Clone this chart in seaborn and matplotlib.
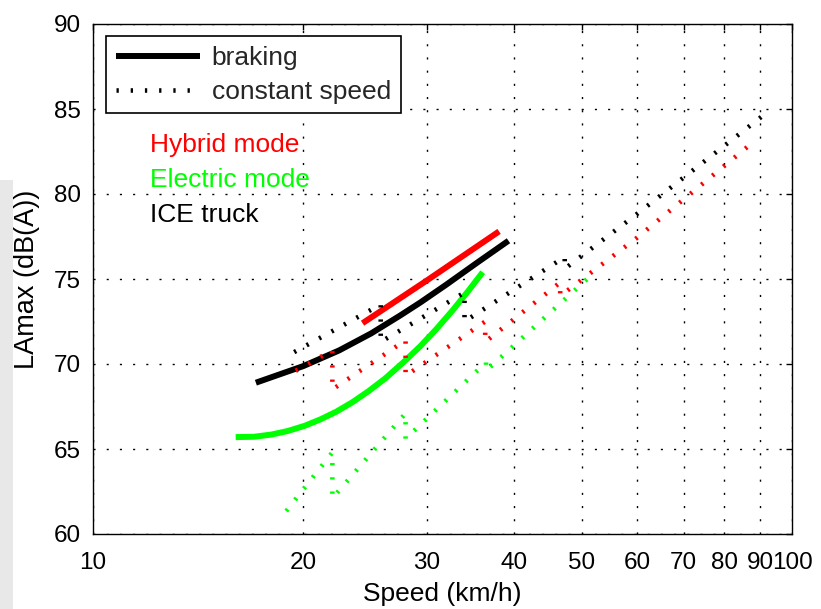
import numpy as np
import pandas as pd
import matplotlib
matplotlib.use("Agg")
import matplotlib.pyplot as plt
import seaborn as sns
from matplotlib.lines import Line2D
from matplotlib.patches import Rectangle
from matplotlib.ticker import FixedLocator, FixedFormatter, NullLocator

# ---------------- data ----------------
x_ticks = [10, 20, 30, 40, 50, 60, 70, 80, 90, 100]
x_tick_labels = ["10", "20", "30", "40", "50", "60", "70", "80", "90", "100"]
y_ticks = [60, 65, 70, 75, 80, 85, 90]
y_tick_labels = ["60", "65", "70", "75", "80", "85", "90"]

# braking (solid)
hyb_brake_speed = [24.3, 30.0, 38.1]
hyb_brake_level = [72.4, 74.9, 77.8]
ele_brake_speed = [16.0, 17.0, 18.0, 19.0, 20.1, 21.2, 22.3, 23.5, 24.8, 26.2,
                   27.8, 29.4, 31.0, 32.7, 34.4, 36.1]
ele_brake_level = [65.70, 65.72, 65.85, 66.06, 66.37, 66.76, 67.2, 67.75, 68.41,
                   69.16, 70.1, 71.05, 72.06, 73.16, 74.28, 75.4]
ice_brake_speed = [17.1, 20.0, 22.5, 25.0, 27.5, 29.4, 32.0, 35.5, 39.3]
ice_brake_level = [68.9, 69.88, 70.8, 71.8, 72.85, 73.62, 74.66, 75.98, 77.25]

# constant speed (dotted)
hyb_const_speed = [19.5, 22.0, 22.0, 28.0, 28.0, 36.4, 36.4, 46.6, 46.6, 59.9, 87.1]
hyb_const_level = [69.6, 70.8, 68.5, 71.4, 69.3, 72.5, 71.3, 74.8, 74.0, 77.4, 82.9]
ele_const_speed = [18.9, 22.0, 22.0, 28.0, 28.0, 36.5, 36.5, 52.2]
ele_const_level = [61.35, 64.8, 62.1, 67.1, 65.6, 70.1, 69.6, 75.4]
ice_const_speed = [19.4, 25.8, 25.8, 34.0, 34.0, 47.3, 47.3, 59.9, 90.8]
ice_const_level = [70.7, 73.5, 71.3, 74.2, 72.5, 76.3, 75.6, 78.8, 84.6]

legend_labels = ["braking", "constant speed"]
mode_labels = ["Hybrid mode", "Electric mode", "ICE truck"]

RED = "#ff0000"
GREEN = "#00ff00"
BLACK = "#000000"
mode_colors = [RED, GREEN, BLACK]

# ---------------- style ----------------
sns.set_theme(style="white")
plt.rcParams["font.family"] = ["Liberation Sans", "DejaVu Sans"]

fig = plt.figure(figsize=(8.21, 6.09), dpi=100)
fig.patch.set_facecolor("white")
fig.patches.append(Rectangle((0, 0), 13 / 821, (609 - 180) / 609,
                             transform=fig.transFigure, facecolor="#e8e8e8",
                             edgecolor="none", zorder=-10))
ax = fig.add_axes([93 / 821, (609 - 534) / 609, 699 / 821, 510 / 609])

SOLID_LW = 4.3
DOT_LW = 3.3
DOT_STYLE = (0, (0.5, 2.6))

def solid(xs, ys, color):
    df = pd.DataFrame({"x": xs, "y": ys})
    sns.lineplot(data=df, x="x", y="y", ax=ax, color=color, lw=SOLID_LW,
                 estimator=None, sort=False, zorder=3,
                 solid_capstyle="butt", solid_joinstyle="round")

def dotted(xs, ys, color):
    df = pd.DataFrame({"x": xs, "y": ys})
    sns.lineplot(data=df, x="x", y="y", ax=ax, color=color, lw=DOT_LW,
                 estimator=None, sort=False, zorder=4,
                 linestyle=DOT_STYLE, dash_capstyle="butt")

ax.set_xscale("log")

solid(ele_brake_speed, ele_brake_level, GREEN)
solid(ice_brake_speed, ice_brake_level, BLACK)
solid(hyb_brake_speed, hyb_brake_level, RED)

dotted(ele_const_speed, ele_const_level, GREEN)
dotted(hyb_const_speed, hyb_const_level, RED)
dotted(ice_const_speed, ice_const_level, BLACK)

ax.set_xlim(10, 100)
ax.set_ylim(60, 90)
ax.xaxis.set_major_locator(FixedLocator(x_ticks))
ax.xaxis.set_major_formatter(FixedFormatter(x_tick_labels))
ax.xaxis.set_minor_locator(NullLocator())
ax.yaxis.set_major_locator(FixedLocator(y_ticks))
ax.yaxis.set_major_formatter(FixedFormatter(y_tick_labels))

ax.grid(True, which="major", color="black", linestyle=(0, (1.5, 8)), lw=1.0)
ax.set_axisbelow(True)

for s in ax.spines.values():
    s.set_visible(True)
    s.set_color("black")
    s.set_linewidth(1.0)

ax.tick_params(axis="both", which="major", direction="in", length=4, width=1.0,
               color="black", top=True, right=True, labelsize=17.5,
               labelcolor="black")
ax.tick_params(axis="x", pad=13)
ax.tick_params(axis="y", pad=9)

ax.set_xlabel("Speed (km/h)", fontsize=19, color="black")
ax.set_ylabel("LAmax (dB(A))", fontsize=19.5, color="black")
ax.xaxis.set_label_coords(0.5, -0.094)
ax.yaxis.set_label_coords(-0.076, 0.5)

handles = [
    Line2D([], [], color=BLACK, lw=SOLID_LW, solid_capstyle="butt"),
    Line2D([], [], color=BLACK, lw=DOT_LW, linestyle=DOT_STYLE, dash_capstyle="butt"),
]
leg = ax.legend(handles, legend_labels, loc="upper left",
                bbox_to_anchor=(0.0186, 0.976), borderaxespad=0,
                fontsize=19, frameon=True, fancybox=False, framealpha=1,
                edgecolor="black", handlelength=3.2, handletextpad=0.45,
                labelspacing=0.38, borderpad=0.36)
leg.get_frame().set_linewidth(1.2)

ys_txt = [0.763, 0.694, 0.625]
for lab, col, yy in zip(mode_labels, mode_colors, ys_txt):
    ax.text(0.0815, yy, lab, transform=ax.transAxes, color=col, fontsize=19,
            va="center", ha="left")

fig.savefig("out.png", dpi=100, facecolor="white")
